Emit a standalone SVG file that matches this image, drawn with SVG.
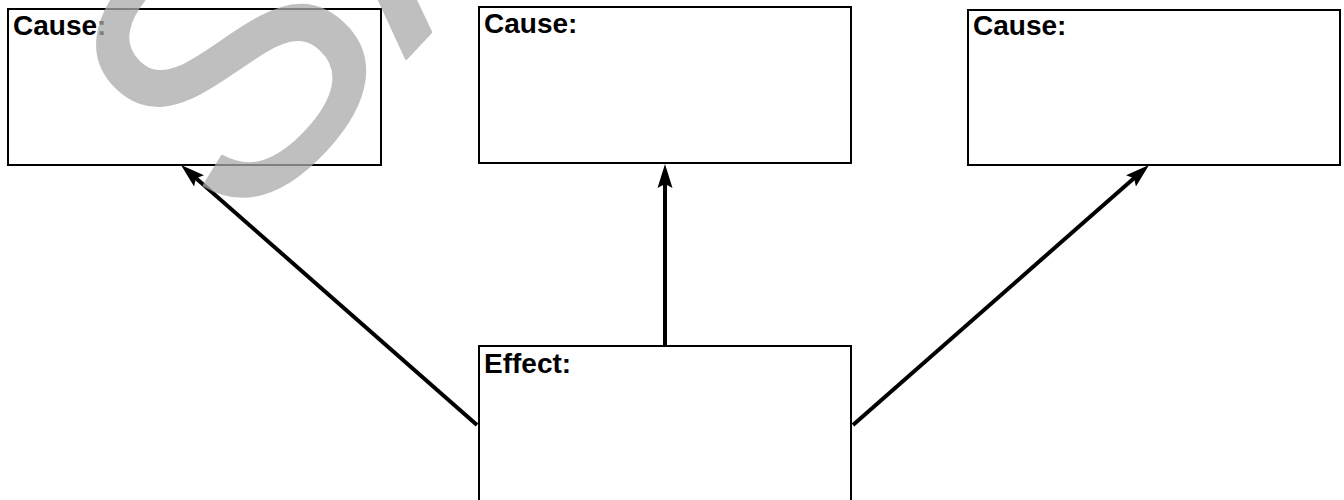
<svg xmlns="http://www.w3.org/2000/svg" width="1344" height="500" viewBox="0 0 1344 500">
  <style>
    .box { fill: #ffffff; stroke: #000000; stroke-width: 2; }
    .label { font-family: "Liberation Sans", Arial, sans-serif; font-weight: bold; font-size: 28px; fill: #000000; }
    .conn { stroke: #000000; stroke-width: 4; fill: none; marker-end: url(#arrow); }
    .mark { font-family: "Liberation Sans", Arial, sans-serif; font-size: 370px; fill: #aaaaaa; stroke: #aaaaaa; stroke-width: 3; stroke-linejoin: round; }
  </style>
  <defs>
    <marker id="arrow" markerUnits="userSpaceOnUse" orient="auto" refX="0" refY="0" markerWidth="30" markerHeight="20" overflow="visible">
      <path d="M14,0 L-10,-7.5 L-6,0 L-10,7.5 Z" fill="#000000"/>
    </marker>
  </defs>
  <rect width="1344" height="500" fill="#ffffff"/>

  <g id="cause1">
    <rect class="box" x="8" y="9" width="373" height="156"/>
    <text class="label" x="13" y="35">Cause:</text>
  </g>
  <g id="cause2">
    <rect class="box" x="479" y="7" width="372" height="156"/>
    <text class="label" x="484" y="33">Cause:</text>
  </g>
  <g id="cause3">
    <rect class="box" x="968" y="10" width="372" height="155"/>
    <text class="label" x="973" y="35">Cause:</text>
  </g>
  <g id="effect">
    <rect class="box" x="479" y="346" width="372" height="200"/>
    <text class="label" x="484" y="373">Effect:</text>
  </g>

  <g id="connectors">
    <path class="conn" d="M477,425 L191.5,174.2"/>
    <path class="conn" d="M665,345 L665,178"/>
    <path class="conn" d="M853,425 L1138.5,174.2"/>
  </g>

  <g id="watermark" opacity="0.75">
    <text class="mark" x="0" y="0" transform="translate(237.5,239.3) rotate(-47)">SA</text>
  </g>
</svg>
